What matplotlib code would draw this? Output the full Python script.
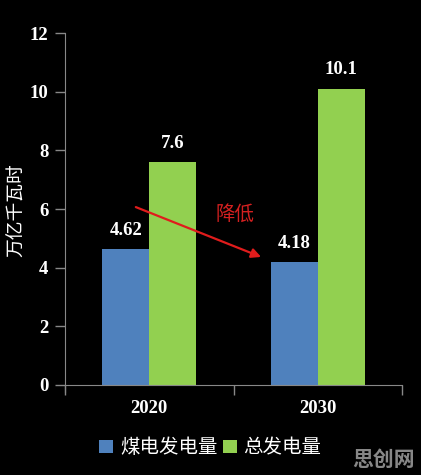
import matplotlib.pyplot as plt
import numpy as np

years = ['2020', '2030']
coal = [4.62, 4.18]
total = [7.6, 10.1]
series_names = ['煤电发电量', '总发电量']
colors = ['#4f81bd', '#92d050']

plt.rcParams['font.family'] = ['Noto Sans CJK SC', 'DejaVu Sans']

fig = plt.figure(figsize=(4.21, 4.75), dpi=100, facecolor='black')
ax = fig.add_axes([0.1544, 0.1895, 0.8005, 0.741], facecolor='black')

x = np.arange(len(years))
w = 0.28
b1 = ax.bar(x - w / 2, coal, w, color=colors[0], label=series_names[0])
b2 = ax.bar(x + w / 2, total, w, color=colors[1], label=series_names[1])

num_font = dict(family='Liberation Serif', weight='bold', size=13.5, color='white')
for bars, vals in ((b1, coal), (b2, total)):
    for rect, v in zip(bars, vals):
        ax.text(rect.get_x() + rect.get_width() / 2, v + 0.35, f'{v:g}',
                ha='center', va='bottom', **num_font)

ax.set_xlim(-0.5, 1.5)
ax.set_ylim(0, 12)
ax.set_yticks(range(0, 13, 2))
ax.set_yticklabels([str(t) for t in range(0, 13, 2)], fontdict=num_font)
ax.set_xticks(x)
ax.set_xticklabels(years, fontdict=num_font)
ax.set_xticks([-0.5, 0.5, 1.5], minor=True)
ax.tick_params(axis='x', which='major', length=0, pad=11)
ax.tick_params(axis='x', which='minor', length=7, color='#888888', width=1)
ax.tick_params(axis='y', length=7, color='#888888', width=1, pad=5)

for s in ['top', 'right']:
    ax.spines[s].set_visible(False)
for s in ['left', 'bottom']:
    ax.spines[s].set_color('#888888')
ax.spines['left'].set_bounds(-0.25, 12)

fig.text(17 / 421, 1 - 210 / 475, '万亿千瓦时', color='white', fontsize=13.5,
         rotation=90, ha='center', va='center')

# arrow showing the decrease
ax.annotate('', xy=(0.679, 4.33), xytext=(-0.095, 6.10),
            arrowprops=dict(arrowstyle='-|>', color='#e01c1c', lw=1.6,
                            mutation_scale=14))
ax.text(0.51, 5.8, '降低', color='#d42020', fontsize=14, ha='center', va='center')

fig.legend(handles=[b1, b2], labels=series_names, loc='center',
           bbox_to_anchor=(0.5, 0.057), ncol=2, frameon=False,
           fontsize=14, labelcolor='white', handlelength=0.7, handleheight=0.7,
           handletextpad=0.35, columnspacing=0.3)

fig.text(0.985, 0.01, '思创网', color='#a0a0a0', fontsize=15, weight='bold',
         ha='right', va='bottom', alpha=0.85)

fig.savefig('out.png', dpi=100, facecolor='black')
